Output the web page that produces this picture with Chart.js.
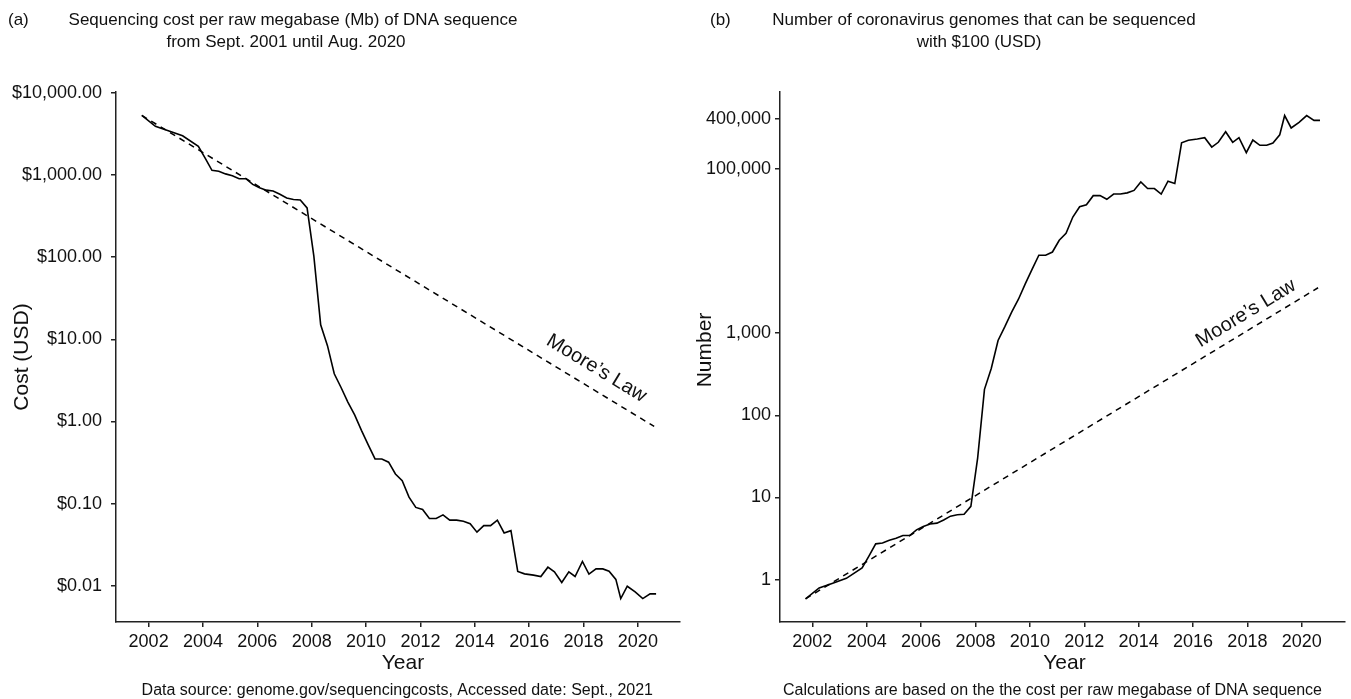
<!DOCTYPE html>
<html>
<head>
<meta charset="utf-8">
<title>Sequencing cost and coronavirus genomes per $100</title>
<script src="https://cdn.jsdelivr.net/npm/chart.js@4.4.1/dist/chart.umd.min.js"></script>
<style>
  html, body { margin: 0; padding: 0; background: #ffffff; }
  #wrap { position: relative; width: 1351px; height: 699px; overflow: hidden; }
  #costCanvas { position: absolute; left: 0; top: 0; }
  #genomeCanvas { position: absolute; left: 690px; top: 0; }
</style>
</head>
<body>
<div id="wrap">
  <canvas id="costCanvas" width="690" height="699"></canvas>
  <canvas id="genomeCanvas" width="661" height="699"></canvas>
</div>
<script>
// Sampling dates (decimal years)
const years = [
  2001.75, 2002.25, 2002.75, 2003.25, 2003.83,
  2004.08, 2004.33, 2004.58, 2004.83,
  2005.08, 2005.33, 2005.58, 2005.83,
  2006.08, 2006.33, 2006.58, 2006.83,
  2007.08, 2007.33, 2007.58, 2007.83,
  2008.08, 2008.33, 2008.58, 2008.83,
  2009.08, 2009.33, 2009.58, 2009.83,
  2010.08, 2010.33, 2010.58, 2010.83,
  2011.08, 2011.33, 2011.58, 2011.83,
  2012.08, 2012.33, 2012.58, 2012.83,
  2013.08, 2013.33, 2013.58, 2013.83,
  2014.08, 2014.33, 2014.58, 2014.83,
  2015.08, 2015.33, 2015.58, 2015.83,
  2016.16, 2016.43, 2016.69, 2016.93,
  2017.20, 2017.46, 2017.69, 2017.96,
  2018.20, 2018.46, 2018.71, 2018.94,
  2019.19, 2019.37, 2019.61, 2019.90,
  2020.18, 2020.45, 2020.67
];

// Cost per raw megabase of DNA sequence (USD)
const costPerMb = [
  5292, 3899, 3414, 2986, 2231,
  1599, 1136, 1107, 1029,
  974, 898, 899, 767,
  699, 652, 636, 582,
  523, 503, 496, 397,
  102, 15.0, 8.36, 3.81,
  2.59, 1.72, 1.20, 0.78,
  0.52, 0.35, 0.35, 0.32,
  0.23, 0.19, 0.12, 0.09,
  0.085, 0.066, 0.066, 0.073,
  0.063, 0.063, 0.061, 0.057,
  0.045, 0.054, 0.054, 0.063,
  0.044, 0.047, 0.015, 0.014,
  0.0135, 0.0130, 0.0169, 0.0148,
  0.0110, 0.0148, 0.0130, 0.0198,
  0.0139, 0.0161, 0.0161, 0.0151,
  0.0120, 0.0070, 0.0099, 0.00845,
  0.0070, 0.0080, 0.0080
];

// Coronavirus genomes that can be sequenced with $100
const genomesPer100 = [
  0.586, 0.795, 0.908, 1.038, 1.389,
  1.939, 2.729, 2.800, 3.013,
  3.183, 3.452, 3.448, 4.042,
  4.435, 4.755, 4.874, 5.326,
  5.927, 6.163, 6.250, 7.809,
  30.39, 206.7, 370.8, 813.6,
  1197, 1802, 2583, 3974,
  5962, 8857, 8857, 9688,
  13478, 16316, 25833, 34444,
  36471, 46970, 46970, 42466,
  49206, 49206, 50820, 54386,
  68889, 57407, 57407, 49206,
  70455, 65957, 206667, 221429,
  229630, 238462, 183432, 209459,
  281818, 209459, 238462, 156566,
  223022, 192547, 192547, 205298,
  258333, 442857, 313131, 366864,
  442857, 387500, 387500
];

// Moore's Law trend (halving every 18 months), end points
const mooreYears = [2001.75, 2020.6];
const mooreCost = [5292, 0.87];
const mooreGenomes = [0.586, 3560];

// Axis ticks
const yearTicks = [2002, 2004, 2006, 2008, 2010, 2012, 2014, 2016, 2018, 2020];
const costTicks = [0.01, 0.1, 1, 10, 100, 1000, 10000];
const genomeTicks = [1, 10, 100, 1000, 100000, 400000];

const FONT = '"Liberation Sans", Arial, Helvetica, sans-serif';
const INK = '#111111';
const AXIS = '#222222';

function pts(xs, ys) { return xs.map((x, i) => ({ x: x, y: ys[i] })); }

// Titles, axis titles, caption and the rotated trend label
const panelText = {
  id: 'panelText',
  afterDraw(chart, args, o) {
    const ctx = chart.ctx;
    const xs = chart.scales.x, ys = chart.scales.y;
    const area = chart.chartArea;
    ctx.save();
    ctx.fillStyle = INK;

    ctx.font = o.titleSize + 'px ' + FONT;
    ctx.textBaseline = 'alphabetic';
    ctx.textAlign = 'left';
    ctx.fillText(o.tag, o.tagX, 25);
    ctx.textAlign = 'center';
    o.title.forEach((line, i) => ctx.fillText(line, o.titleX[i], 25 + i * 21.7));

    ctx.font = o.axisTitleSize + 'px ' + FONT;
    ctx.textBaseline = 'middle';
    ctx.fillText('Year', (area.left + area.right) / 2 + o.xTitleDx, 663);
    ctx.save();
    ctx.translate(o.yTitleX, o.yTitleY);
    ctx.rotate(-Math.PI / 2);
    ctx.fillText(o.yTitle, 0, 0);
    ctx.restore();

    ctx.font = o.captionSize + 'px ' + FONT;
    ctx.textAlign = 'right';
    ctx.textBaseline = 'alphabetic';
    ctx.fillText(o.caption, o.captionRight, 695);

    // label sitting along the dashed trend line
    const tv = o.trend;
    const x1 = xs.getPixelForValue(mooreYears[0]), y1 = ys.getPixelForValue(tv[0]);
    const x2 = xs.getPixelForValue(mooreYears[1]), y2 = ys.getPixelForValue(tv[1]);
    const ang = Math.atan2(y2 - y1, x2 - x1);
    const px = xs.getPixelForValue(o.labelYear);
    const t = (px - x1) / (x2 - x1);
    const py = y1 + t * (y2 - y1);
    ctx.font = o.labelSize + 'px ' + FONT;
    ctx.translate(px, py);
    ctx.rotate(ang);
    ctx.textAlign = 'center';
    ctx.fillText('Moore\u2019s Law', 0, -o.labelGap);
    ctx.restore();
  }
};

function makePanel(canvasId, cfg) {
  return new Chart(document.getElementById(canvasId), {
    type: 'line',
    data: {
      datasets: [
        {
          data: pts(years, cfg.values),
          borderColor: '#000000',
          borderWidth: 1.6,
          pointRadius: 0,
          tension: 0,
          fill: false
        },
        {
          data: pts(mooreYears, cfg.trend),
          borderColor: '#000000',
          borderWidth: 1.5,
          borderDash: [6, 5],
          pointRadius: 0,
          tension: 0,
          fill: false
        }
      ]
    },
    options: {
      responsive: false,
      animation: false,
      devicePixelRatio: 1,
      layout: { padding: { top: 92, right: cfg.padRight, bottom: 0, left: 0 } },
      plugins: {
        legend: { display: false },
        tooltip: { enabled: false },
        title: { display: false },
        panelText: cfg.text
      },
      scales: {
        x: {
          type: 'linear',
          bounds: 'data',
          min: cfg.xMin,
          max: cfg.xMax,
          afterBuildTicks: s => { s.ticks = yearTicks.map(v => ({ value: v })); },
          afterFit: s => { s.height = 77; },
          grid: { drawOnChartArea: false, drawTicks: true, tickLength: 5, color: AXIS, lineWidth: 1.5 },
          border: { display: true, color: AXIS, width: 1.5 },
          ticks: {
            font: { family: FONT, size: 18 },
            color: INK,
            padding: 4,
            maxRotation: 0,
            autoSkip: false,
            callback: v => String(v)
          }
        },
        y: {
          type: 'logarithmic',
          bounds: 'data',
          min: cfg.yMin,
          max: cfg.yMax,
          afterBuildTicks: s => { s.ticks = cfg.ticks.map(v => ({ value: v })); },
          afterFit: s => { s.width = cfg.yWidth; },
          grid: { drawOnChartArea: false, drawTicks: true, tickLength: 5, color: AXIS, lineWidth: 1.5 },
          border: { display: true, color: AXIS, width: 1.5 },
          ticks: {
            font: { family: FONT, size: 18 },
            color: INK,
            padding: cfg.tickPad,
            autoSkip: false,
            callback: cfg.fmt
          }
        }
      }
    },
    plugins: [panelText]
  });
}

makePanel('costCanvas', {
  values: costPerMb,
  trend: mooreCost,
  ticks: costTicks,
  xMin: 2000.8, xMax: 2021.55,
  yMin: 0.003635, yMax: 10197,
  yWidth: 116, padRight: 10, tickPad: 9,
  fmt: v => '$' + Number(v).toLocaleString('en-US', { minimumFractionDigits: 2, maximumFractionDigits: 2 }),
  text: {
    tag: '(a)', tagX: 8,
    title: ['Sequencing cost per raw megabase (Mb) of DNA sequence', 'from Sept. 2001 until Aug. 2020'],
    titleX: [293, 286], titleSize: 17,
    axisTitleSize: 21, xTitleDx: 5,
    yTitle: 'Cost (USD)', yTitleX: 22, yTitleY: 357,
    caption: 'Data source: genome.gov/sequencingcosts, Accessed date: Sept., 2021',
    captionRight: 653, captionSize: 16,
    trend: mooreCost, labelYear: 2018.1, labelGap: 14, labelSize: 20
  }
});

makePanel('genomeCanvas', {
  values: genomesPer100,
  trend: mooreGenomes,
  ticks: genomeTicks,
  xMin: 2000.81, xMax: 2021.59,
  yMin: 0.3057, yMax: 857000,
  yWidth: 90, padRight: 6, tickPad: 4,
  fmt: v => Number(v).toLocaleString('en-US'),
  text: {
    tag: '(b)', tagX: 20,
    title: ['Number of coronavirus genomes that can be sequenced', 'with $100 (USD)'],
    titleX: [294, 289], titleSize: 17,
    axisTitleSize: 21, xTitleDx: 2,
    yTitle: 'Number', yTitleX: 15, yTitleY: 350,
    caption: 'Calculations are based on the the cost per raw megabase of DNA sequence',
    captionRight: 632, captionSize: 16,
    trend: mooreGenomes, labelYear: 2018.24, labelGap: 10, labelSize: 20
  }
});
</script>
</body>
</html>
